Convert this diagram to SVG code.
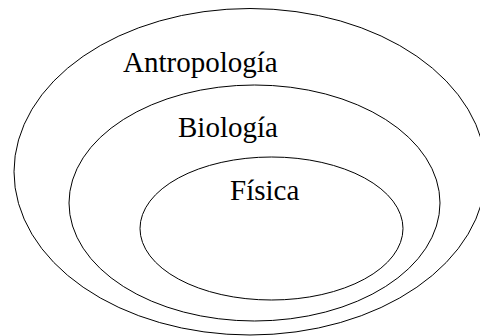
<svg xmlns="http://www.w3.org/2000/svg" width="480" height="336" viewBox="0 0 480 336">
<style>
.set{fill:none;stroke:#000;stroke-width:1}
.lbl{font-family:'Liberation Serif','DejaVu Serif','Times New Roman',serif;font-size:29px;fill:#000}
</style>
<rect width="480" height="336" fill="#fff"/>
<g id="antropologia">
<ellipse class="set" cx="250" cy="171.75" rx="236" ry="163.25"/>
<text class="lbl" x="123" y="72">Antropología</text>
</g>
<g id="biologia">
<ellipse class="set" cx="254.5" cy="203" rx="185.5" ry="118"/>
<text class="lbl" x="178" y="137">Biología</text>
</g>
<g id="fisica">
<ellipse class="set" cx="271.5" cy="228.5" rx="131.5" ry="71.5"/>
<text class="lbl" x="230" y="200">Física</text>
</g>
<g id="connectors"/>
</svg>
